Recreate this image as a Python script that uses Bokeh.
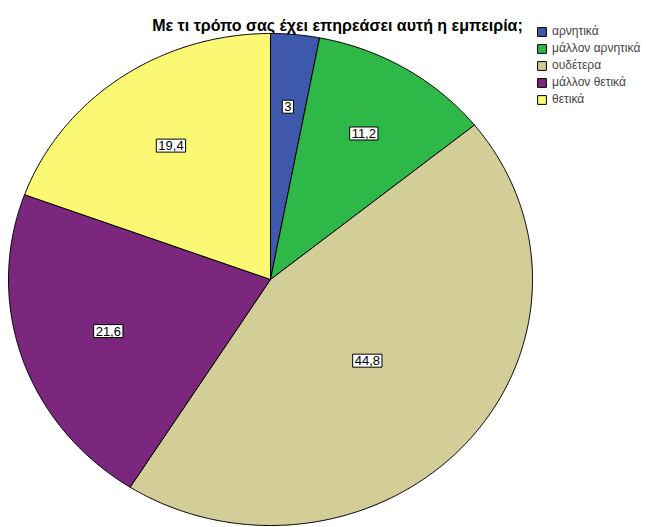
import numpy as np
from bokeh.plotting import figure
from bokeh.models import Range1d, ColumnDataSource, Legend, LegendItem, Label
from bokeh.embed import file_html
from bokeh.resources import INLINE

# ---- data ----
title_text = "Με τι τρόπο σας έχει επηρεάσει αυτή η εμπειρία;"
categories = ["αρνητικά", "μάλλον αρνητικά", "ουδέτερα", "μάλλον θετικά", "θετικά"]
percentages = [3.0, 11.2, 44.8, 21.6, 19.4]
colors = ["#3E58AC", "#2EB848", "#D3CE97", "#7B277D", "#FBF873"]

# ---- layout ----
W, H = 646, 527
CX, CY = 270, 279      # pie centre (picture px)
RX, RY = 262, 246      # pie radii (picture px)
LABEL_FACTOR = 1.06
FONT = "Liberation Sans"

p = figure(width=W, height=H, output_backend="svg", toolbar_location=None,
           x_range=Range1d(0, W), y_range=Range1d(H, 0),
           x_axis_type=None, y_axis_type=None, min_border=0)
p.grid.visible = False
p.outline_line_color = None
p.background_fill_color = "white"

vals = np.array(percentages, dtype=float)
frac = vals / vals.sum()
ends = np.cumsum(frac) * 2 * np.pi
starts = ends - frac * 2 * np.pi

xs, ys = [], []
lx, ly, ltxt = [], [], []
for s, e, v in zip(starts, ends, vals):
    th = np.linspace(s, e, max(8, int((e - s) * 120)))
    xs.append([CX] + list(CX + RX * np.sin(th)))
    ys.append([CY] + list(CY - RY * np.cos(th)))
    half = (e - s) / 2
    mid = s + half
    r = 2 * np.sin(half) / (3 * half) * LABEL_FACTOR
    lx.append(CX + RX * r * np.sin(mid))
    ly.append(CY - RY * r * np.cos(mid))
    ltxt.append(f"{v:g}".replace(".", ","))

src = ColumnDataSource(dict(xs=xs, ys=ys, color=colors, label=categories))
pr = p.patches("xs", "ys", source=src, fill_color="color", line_color="black",
               line_width=1)

for x, y, t in zip(lx, ly, ltxt):
    p.add_layout(Label(x=x, y=y, text=t, text_align="center",
                       text_baseline="middle", text_font=FONT,
                       text_font_size="13px", text_color="black",
                       background_fill_color="white",
                       border_line_color="black", border_line_width=1,
                       padding=2))

p.add_layout(Label(x=337, y=25, text=title_text, text_align="center",
                   text_baseline="alphabetic", text_font=FONT,
                   text_font_size="16px", text_font_style="bold",
                   text_color="black"))

legend = Legend(items=[LegendItem(label=c, renderers=[pr], index=i)
                       for i, c in enumerate(categories)],
                location=(536, H - 106), orientation="vertical",
                glyph_width=11, glyph_height=11, label_height=11,
                label_width=20, spacing=3, padding=0, margin=0,
                label_standoff=5, label_text_font_size="12px",
                label_text_font=FONT, background_fill_alpha=0,
                border_line_color=None)
p.add_layout(legend)

open("out.html", "w").write(file_html(p, INLINE))
